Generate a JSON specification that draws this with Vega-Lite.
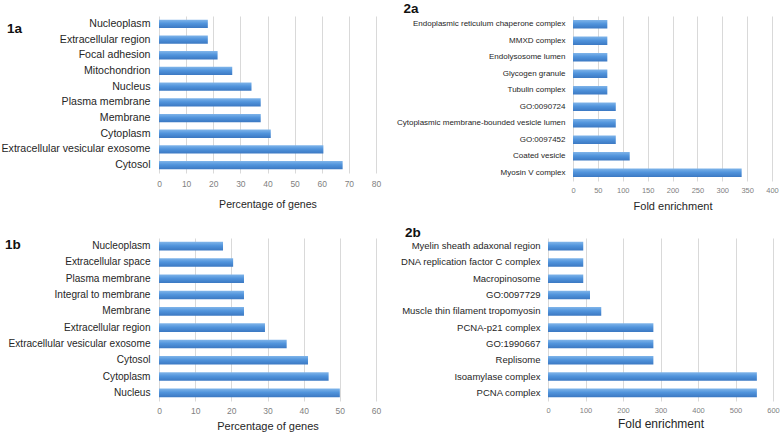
{
  "$schema": "https://vega.github.io/schema/vega-lite/v6.json",
  "padding": {"left": 1, "top": 1, "right": 0, "bottom": 0},
  "background": "white",
  "config": {
    "view": {"stroke": null},
    "font": "Liberation Sans",
    "axis": {"domain": false, "ticks": false},
    "axisX": {"grid": true, "gridColor": "#d9d9d9", "labelColor": "#7f7f7f", "labelFontSize": 8.5, "labelFlush": false, "titleFontWeight": "normal", "titleColor": "#262626"},
    "axisY": {"grid": false, "labelColor": "#262626", "labelPadding": 8, "labelLimit": 400},
    "title": {"fontWeight": "bold", "fontSize": 13.5, "anchor": "start", "frame": "bounds", "offset": 0, "color": "#111111"}
  },
  "datasets": {
    "d1a": [
      {"cat": "Nucleoplasm", "value": 18.0},
      {"cat": "Extracellular region", "value": 18.0},
      {"cat": "Focal adhesion", "value": 21.6},
      {"cat": "Mitochondrion", "value": 27.0},
      {"cat": "Nucleus", "value": 34.1},
      {"cat": "Plasma membrane", "value": 37.5},
      {"cat": "Membrane", "value": 37.5},
      {"cat": "Cytoplasm", "value": 41.2},
      {"cat": "Extracellular vesicular exosome", "value": 60.6},
      {"cat": "Cytosol", "value": 67.7}
    ],
    "d2a": [
      {"cat": "Endoplasmic reticulum chaperone complex", "value": 69},
      {"cat": "MMXD complex", "value": 69},
      {"cat": "Endolysosome lumen", "value": 69},
      {"cat": "Glycogen granule", "value": 69},
      {"cat": "Tubulin complex", "value": 69},
      {"cat": "GO:0090724", "value": 86},
      {"cat": "Cytoplasmic membrane-bounded vesicle lumen", "value": 86},
      {"cat": "GO:0097452", "value": 86},
      {"cat": "Coated vesicle", "value": 114},
      {"cat": "Myosin V complex", "value": 339}
    ],
    "d1b": [
      {"cat": "Nucleoplasm", "value": 17.7},
      {"cat": "Extracellular space", "value": 20.5},
      {"cat": "Plasma membrane", "value": 23.5},
      {"cat": "Integral to membrane", "value": 23.5},
      {"cat": "Membrane", "value": 23.5},
      {"cat": "Extracellular region", "value": 29.3},
      {"cat": "Extracellular vesicular exosome", "value": 35.3},
      {"cat": "Cytosol", "value": 41.2},
      {"cat": "Cytoplasm", "value": 46.9},
      {"cat": "Nucleus", "value": 50.0}
    ],
    "d2b": [
      {"cat": "Myelin sheath adaxonal region", "value": 94},
      {"cat": "DNA replication factor C complex", "value": 94},
      {"cat": "Macropinosome", "value": 94},
      {"cat": "GO:0097729", "value": 112},
      {"cat": "Muscle thin filament tropomyosin", "value": 142},
      {"cat": "PCNA-p21 complex", "value": 281},
      {"cat": "GO:1990667", "value": 281},
      {"cat": "Replisome", "value": 281},
      {"cat": "Isoamylase complex", "value": 557},
      {"cat": "PCNA complex", "value": 557}
    ]
  },
  "spacing": 13,
  "align": "none",
  "vconcat": [
    {
      "bounds": "flush",
      "spacing": 197,
      "hconcat": [
        {
          "data": {"name": "d1a"},
          "width": 217,
          "height": 157,
          "title": {"text": "1a", "dx": 6, "dy": 23.5},
          "mark": {"type": "bar", "color": {"gradient": "linear", "x1": 0, "y1": 0, "x2": 0, "y2": 1, "stops": [{"offset": 0, "color": "#80b5ea"}, {"offset": 0.45, "color": "#5194dc"}, {"offset": 1, "color": "#3b78c2"}]}},
          "encoding": {
            "y": {"field": "cat", "type": "nominal", "sort": null, "scale": {"paddingInner": 0.47}, "axis": {"title": null, "labelFontSize": 10.6, "labelPadding": 9}},
            "x": {"field": "value", "type": "quantitative", "scale": {"domain": [0, 80], "nice": false}, "axis": {"values": [0, 10, 20, 30, 40, 50, 60, 70, 80], "title": "Percentage of genes", "titleFontSize": 10.6, "labelPadding": 6, "titlePadding": 12}}
          }
        },
        {
          "data": {"name": "d2a"},
          "width": 199,
          "height": 165,
          "title": {"text": "2a", "dx": 7, "dy": 3},
          "mark": {"type": "bar", "color": {"gradient": "linear", "x1": 0, "y1": 0, "x2": 0, "y2": 1, "stops": [{"offset": 0, "color": "#80b5ea"}, {"offset": 0.45, "color": "#5194dc"}, {"offset": 1, "color": "#3b78c2"}]}},
          "encoding": {
            "y": {"field": "cat", "type": "nominal", "sort": null, "scale": {"paddingInner": 0.47}, "axis": {"title": null, "labelFontSize": 8.0}},
            "x": {"field": "value", "type": "quantitative", "scale": {"domain": [0, 400], "nice": false}, "axis": {"values": [0, 50, 100, 150, 200, 250, 300, 350, 400], "title": "Fold enrichment", "labelFontSize": 7.5, "titleFontSize": 11, "labelPadding": 5, "titlePadding": 7}}
          }
        }
      ]
    },
    {
      "bounds": "flush",
      "spacing": 172,
      "hconcat": [
        {
          "data": {"name": "d1b"},
          "width": 217,
          "height": 163,
          "title": {"text": "1b", "dx": -3, "dy": 17},
          "mark": {"type": "bar", "color": {"gradient": "linear", "x1": 0, "y1": 0, "x2": 0, "y2": 1, "stops": [{"offset": 0, "color": "#80b5ea"}, {"offset": 0.45, "color": "#5194dc"}, {"offset": 1, "color": "#3b78c2"}]}},
          "encoding": {
            "y": {"field": "cat", "type": "nominal", "sort": null, "scale": {"paddingInner": 0.47}, "axis": {"title": null, "labelFontSize": 10.1, "labelPadding": 9}},
            "x": {"field": "value", "type": "quantitative", "scale": {"domain": [0, 60], "nice": false}, "axis": {"values": [0, 10, 20, 30, 40, 50, 60], "title": "Percentage of genes", "titleFontSize": 11, "labelPadding": 5, "titlePadding": 6}}
          }
        },
        {
          "data": {"name": "d2b"},
          "width": 225,
          "height": 163,
          "title": {"text": "2b", "dx": 5, "dy": 5},
          "mark": {"type": "bar", "color": {"gradient": "linear", "x1": 0, "y1": 0, "x2": 0, "y2": 1, "stops": [{"offset": 0, "color": "#80b5ea"}, {"offset": 0.45, "color": "#5194dc"}, {"offset": 1, "color": "#3b78c2"}]}},
          "encoding": {
            "y": {"field": "cat", "type": "nominal", "sort": null, "scale": {"paddingInner": 0.47}, "axis": {"title": null, "labelFontSize": 9.5}},
            "x": {"field": "value", "type": "quantitative", "scale": {"domain": [0, 600], "nice": false}, "axis": {"values": [0, 100, 200, 300, 400, 500, 600], "title": "Fold enrichment", "labelFontSize": 7.5, "titleFontSize": 12, "labelPadding": 5, "titlePadding": 5}}
          }
        }
      ]
    }
  ]
}
